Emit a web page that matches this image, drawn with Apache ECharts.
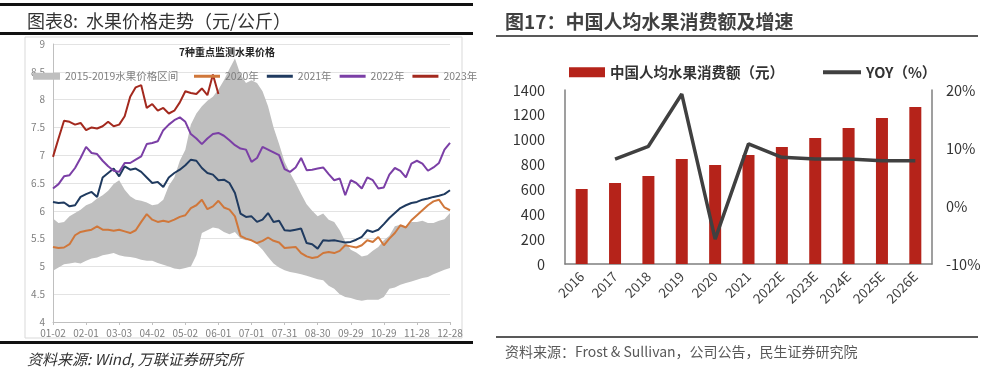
<!DOCTYPE html>
<html>
<head>
<meta charset="utf-8">
<script src="https://cdn.jsdelivr.net/npm/echarts@6/dist/echarts.min.js"></script>
<style>
  html, body { margin: 0; padding: 0; background: #fff; }
  #chart { width: 1000px; height: 376px; }
</style>
</head>
<body>
<div id="chart"></div>
<script>
// ---- left panel: daily fruit prices, sampled every 5 days from 01-02 ----
var STEP_DAYS = 5;
var priceTicks = ['01-02', '02-01', '03-03', '04-02', '05-02', '06-01', '07-01',
    '07-31', '08-30', '09-29', '10-29', '11-28', '12-28'];

var bandLow = [4.92, 4.98, 5.04, 5.05, 5.07, 5.05, 5.1, 5.14, 5.16, 5.2, 5.22, 5.24, 5.2,
    5.18, 5.17, 5.15, 5.12, 5.1, 5.1, 5.06, 5.03, 5.0, 4.96, 4.95, 4.97, 5.0, 5.2, 5.6,
    5.65, 5.7, 5.68, 5.62, 5.58, 5.62, 5.5, 5.47, 5.47, 5.4, 5.3, 5.17, 5.05, 4.98, 4.93,
    4.9, 4.88, 4.86, 4.83, 4.8, 4.77, 4.75, 4.65, 4.6, 4.5, 4.45, 4.43, 4.4, 4.38, 4.4,
    4.4, 4.4, 4.45, 4.6, 4.62, 4.67, 4.7, 4.73, 4.76, 4.79, 4.81, 4.86, 4.9, 4.94, 4.97];
var bandHigh = [5.86, 5.78, 5.8, 5.9, 5.96, 6.02, 6.1, 6.14, 6.22, 6.28, 6.36, 6.48, 6.55,
    6.38, 6.26, 6.2, 6.18, 6.15, 6.1, 6.12, 6.2, 6.45, 6.6, 6.9, 7.1, 7.55, 7.75, 7.88,
    7.98, 8.05, 8.18, 8.35, 8.55, 8.74, 8.45, 8.3, 8.35, 8.3, 8.15, 7.88, 7.5, 7.2, 6.88,
    6.68, 6.5, 6.3, 6.12, 6.0, 5.9, 5.95, 5.84, 5.8, 5.65, 5.45, 5.3, 5.25, 5.18, 5.2,
    5.28, 5.35, 5.47, 5.55, 5.72, 5.75, 5.72, 5.8, 5.8, 5.82, 5.78, 5.78, 5.82, 5.85, 5.96];
var price2020 = [5.35, 5.33, 5.34, 5.4, 5.56, 5.62, 5.64, 5.66, 5.72, 5.66, 5.66, 5.64, 5.66,
    5.63, 5.6, 5.65, 5.8, 5.94, 5.84, 5.8, 5.82, 5.8, 5.84, 5.89, 5.92, 6.05, 6.1, 6.2,
    6.03, 6.08, 6.18, 6.06, 6.02, 5.9, 5.55, 5.5, 5.47, 5.42, 5.46, 5.52, 5.46, 5.43, 5.33,
    5.34, 5.35, 5.24, 5.18, 5.15, 5.17, 5.24, 5.26, 5.24, 5.28, 5.38, 5.36, 5.34, 5.38,
    5.47, 5.44, 5.53, 5.38, 5.5, 5.6, 5.74, 5.7, 5.83, 5.92, 6.01, 6.1, 6.17, 6.2, 6.06, 6.01];
var price2021 = [6.16, 6.14, 6.15, 6.08, 6.1, 6.25, 6.3, 6.34, 6.25, 6.6, 6.68, 6.76, 6.62,
    6.8, 6.74, 6.76, 6.7, 6.6, 6.5, 6.52, 6.43, 6.6, 6.68, 6.74, 6.82, 6.92, 6.9, 6.77,
    6.68, 6.65, 6.55, 6.56, 6.5, 6.32, 5.95, 5.89, 5.9, 5.8, 5.84, 5.96, 5.8, 5.82, 5.65,
    5.64, 5.66, 5.68, 5.42, 5.4, 5.32, 5.47, 5.46, 5.47, 5.45, 5.43, 5.44, 5.48, 5.53,
    5.65, 5.62, 5.66, 5.76, 5.87, 5.96, 6.05, 6.1, 6.14, 6.16, 6.2, 6.22, 6.25, 6.27, 6.3, 6.37];
var price2022 = [6.4, 6.48, 6.62, 6.64, 6.77, 6.95, 7.15, 7.04, 7.02, 6.9, 6.8, 6.72, 6.7,
    6.86, 6.86, 6.92, 6.98, 7.2, 7.22, 7.25, 7.45, 7.55, 7.63, 7.68, 7.6, 7.38, 7.3, 7.2,
    7.3, 7.38, 7.4, 7.35, 7.27, 7.18, 7.12, 7.1, 6.88, 6.95, 7.15, 7.1, 7.05, 7.0, 6.75,
    6.7, 6.78, 6.95, 6.73, 6.74, 6.76, 6.78, 6.66, 6.55, 6.58, 6.28, 6.55, 6.5, 6.4, 6.6,
    6.55, 6.4, 6.42, 6.65, 6.77, 6.72, 6.6, 6.85, 6.9, 6.85, 6.72, 6.78, 6.86, 7.1, 7.22];
var price2023 = [6.97, 7.3, 7.62, 7.6, 7.55, 7.58, 7.45, 7.5, 7.48, 7.52, 7.6, 7.52, 7.55,
    7.7, 8.05, 8.22, 8.26, 7.85, 7.92, 7.8, 7.85, 7.75, 7.8, 7.95, 8.15, 8.12, 8.1, 8.2,
    8.08, 8.45, 8.1];

// ---- right panel: per-capita fruit spending ----
var years = ['2016', '2017', '2018', '2019', '2020', '2021', '2022E', '2023E', '2024E', '2025E', '2026E'];
var spendYuan = [603, 652, 708, 845, 797, 877, 941, 1014, 1094, 1175, 1263];
var yoyPct = [null, 8.1, 10.3, 19.3, -5.7, 10.7, 8.4, 8.1, 8.1, 7.8, 7.8];

var CJK = '"Noto Sans CJK SC", "Noto Sans", sans-serif';
var BAND_NAME = '2015-2019水果价格区间';
var TICK_EVERY = 30 / STEP_DAYS;

// one category per sample, labelled only every 30 days
var dayCats = bandLow.map(function (v, i) { return String(i * STEP_DAYS); });
var bandSpan = bandHigh.map(function (v, i) { return +(v - bandLow[i]).toFixed(2); });

function priceLine(name, data, color) {
    return {
        type: 'line', name: name, xAxisIndex: 0, yAxisIndex: 0,
        data: data, showSymbol: false, symbol: 'none',
        lineStyle: { width: 2, color: color }, itemStyle: { color: color }
    };
}

var option = {
    animation: false,
    textStyle: { fontFamily: CJK },
    legend: [
        {
            left: 28, top: 66, itemWidth: 27, itemHeight: 7, icon: 'rect',
            textStyle: { color: '#7f7f7f', fontSize: 10.5, fontFamily: CJK },
            data: [BAND_NAME]
        },
        {
            left: 189, top: 66, itemWidth: 26, itemHeight: 3, itemGap: 8, icon: 'rect',
            textStyle: { color: '#7f7f7f', fontSize: 10.5, fontFamily: CJK },
            data: ['2020年', '2021年', '2022年', '2023年']
        },
        {
            left: 564, top: 60, itemWidth: 36, itemHeight: 10, icon: 'rect',
            textStyle: { color: '#333', fontSize: 14.5, fontWeight: 'bold', fontFamily: CJK },
            data: ['中国人均水果消费额（元）']
        },
        {
            left: 818, top: 60, itemWidth: 38, itemHeight: 4, icon: 'rect',
            textStyle: { color: '#333', fontSize: 14.5, fontWeight: 'bold', fontFamily: CJK },
            data: ['YOY（%）']
        }
    ],
    grid: [
        { left: 53, right: 550, top: 44, bottom: 54 },
        { left: 565, right: 68, top: 90, bottom: 112 }
    ],
    xAxis: [
        {
            gridIndex: 0, type: 'category', data: dayCats, boundaryGap: false,
            axisLine: { lineStyle: { color: '#bfbfbf' } },
            axisTick: { show: true, length: 3, interval: TICK_EVERY - 1, lineStyle: { color: '#bfbfbf' } },
            splitLine: { show: false },
            axisLabel: {
                color: '#7f7f7f', fontSize: 10, margin: 6, interval: TICK_EVERY - 1,
                formatter: function (v, idx) { return priceTicks[idx / TICK_EVERY] || ''; }
            }
        },
        {
            gridIndex: 1, type: 'category', data: years,
            axisLine: { lineStyle: { color: '#7f7f7f', width: 1.5 } },
            axisTick: { show: false },
            axisLabel: { color: '#404040', fontSize: 13.5, rotate: 45, margin: 10, interval: 0 }
        }
    ],
    yAxis: [
        {
            gridIndex: 0, type: 'value', min: 4, max: 9, interval: 0.5,
            axisLine: { show: true, lineStyle: { color: '#bfbfbf' } },
            axisTick: { show: false },
            splitLine: { lineStyle: { color: '#e3e3e3' } },
            axisLabel: { color: '#7f7f7f', fontSize: 10, margin: 8 }
        },
        {
            gridIndex: 1, type: 'value', min: 0, max: 1400, interval: 200,
            axisLine: { show: true, lineStyle: { color: '#7f7f7f', width: 1.5 } },
            axisTick: { show: false },
            splitLine: { show: false },
            axisLabel: { color: '#333', fontSize: 14.5, margin: 20, formatter: function (v) { return String(v); } }
        },
        {
            gridIndex: 1, type: 'value', min: -10, max: 20, interval: 10, position: 'right',
            axisLine: { show: true, lineStyle: { color: '#7f7f7f', width: 1.5 } },
            axisTick: { show: false },
            splitLine: { show: false },
            axisLabel: { color: '#333', fontSize: 14.5, margin: 14, formatter: '{value}%' }
        }
    ],
    series: [
        {
            type: 'line', name: 'band-base', stack: 'band', xAxisIndex: 0, yAxisIndex: 0,
            data: bandLow, showSymbol: false, symbol: 'none',
            lineStyle: { width: 0, opacity: 0 }
        },
        {
            type: 'line', name: BAND_NAME, stack: 'band', xAxisIndex: 0, yAxisIndex: 0,
            data: bandSpan, showSymbol: false, symbol: 'none',
            lineStyle: { width: 0, opacity: 0 },
            itemStyle: { color: '#bfbfbf' },
            areaStyle: { color: '#bfbfbf', opacity: 1 }
        },
        priceLine('2020年', price2020, '#d0773a'),
        priceLine('2021年', price2021, '#1f3a5f'),
        priceLine('2022年', price2022, '#7b3fa6'),
        priceLine('2023年', price2023, '#a3291e'),
        {
            type: 'bar', name: '中国人均水果消费额（元）', xAxisIndex: 1, yAxisIndex: 1,
            data: spendYuan, barWidth: 12,
            itemStyle: { color: '#b5231a' }
        },
        {
            type: 'line', name: 'YOY（%）', xAxisIndex: 1, yAxisIndex: 2,
            data: yoyPct, showSymbol: false, symbol: 'none',
            lineStyle: { width: 3.5, color: '#404040' }, itemStyle: { color: '#404040' }
        }
    ],
    graphic: [
        // left panel frame
        { type: 'rect', shape: { x: 0, y: 3, width: 473, height: 3 }, style: { fill: '#111' } },
        { type: 'text', x: 27, y: 21, style: { text: '图表8:  水果价格走势（元/公斤）', font: '18px ' + CJK, fill: '#333', textVerticalAlign: 'middle' } },
        { type: 'rect', shape: { x: 0, y: 32, width: 473, height: 3 }, style: { fill: '#111' } },
        { type: 'rect', shape: { x: 25, y: 37, width: 437, height: 301 }, style: { fill: 'none', stroke: '#d9d9d9', lineWidth: 1 } },
        { type: 'text', x: 227, y: 52, style: { text: '7种重点监测水果价格', font: 'bold 10px ' + CJK, fill: '#222', textAlign: 'center', textVerticalAlign: 'middle' } },
        { type: 'rect', shape: { x: 0, y: 341, width: 473, height: 3 }, style: { fill: '#111' } },
        { type: 'text', x: 27, y: 359, style: { text: '资料来源: Wind, 万联证券研究所', font: 'italic 15px ' + CJK, fill: '#333', textVerticalAlign: 'middle' } },
        // right panel frame
        { type: 'text', x: 505, y: 22, style: { text: '图17：中国人均水果消费额及增速', font: 'bold 19px ' + CJK, fill: '#404040', textVerticalAlign: 'middle' } },
        { type: 'rect', shape: { x: 496, y: 35, width: 482, height: 2 }, style: { fill: '#595959' } },
        { type: 'rect', shape: { x: 496, y: 336, width: 482, height: 2 }, style: { fill: '#595959' } },
        { type: 'text', x: 505, y: 352, style: { text: '资料来源：Frost & Sullivan，公司公告，民生证券研究院', font: '14px ' + CJK, fill: '#595959', textVerticalAlign: 'middle' } }
    ]
};

var chart = echarts.init(document.getElementById('chart'));
chart.setOption(option);
</script>
</body>
</html>
